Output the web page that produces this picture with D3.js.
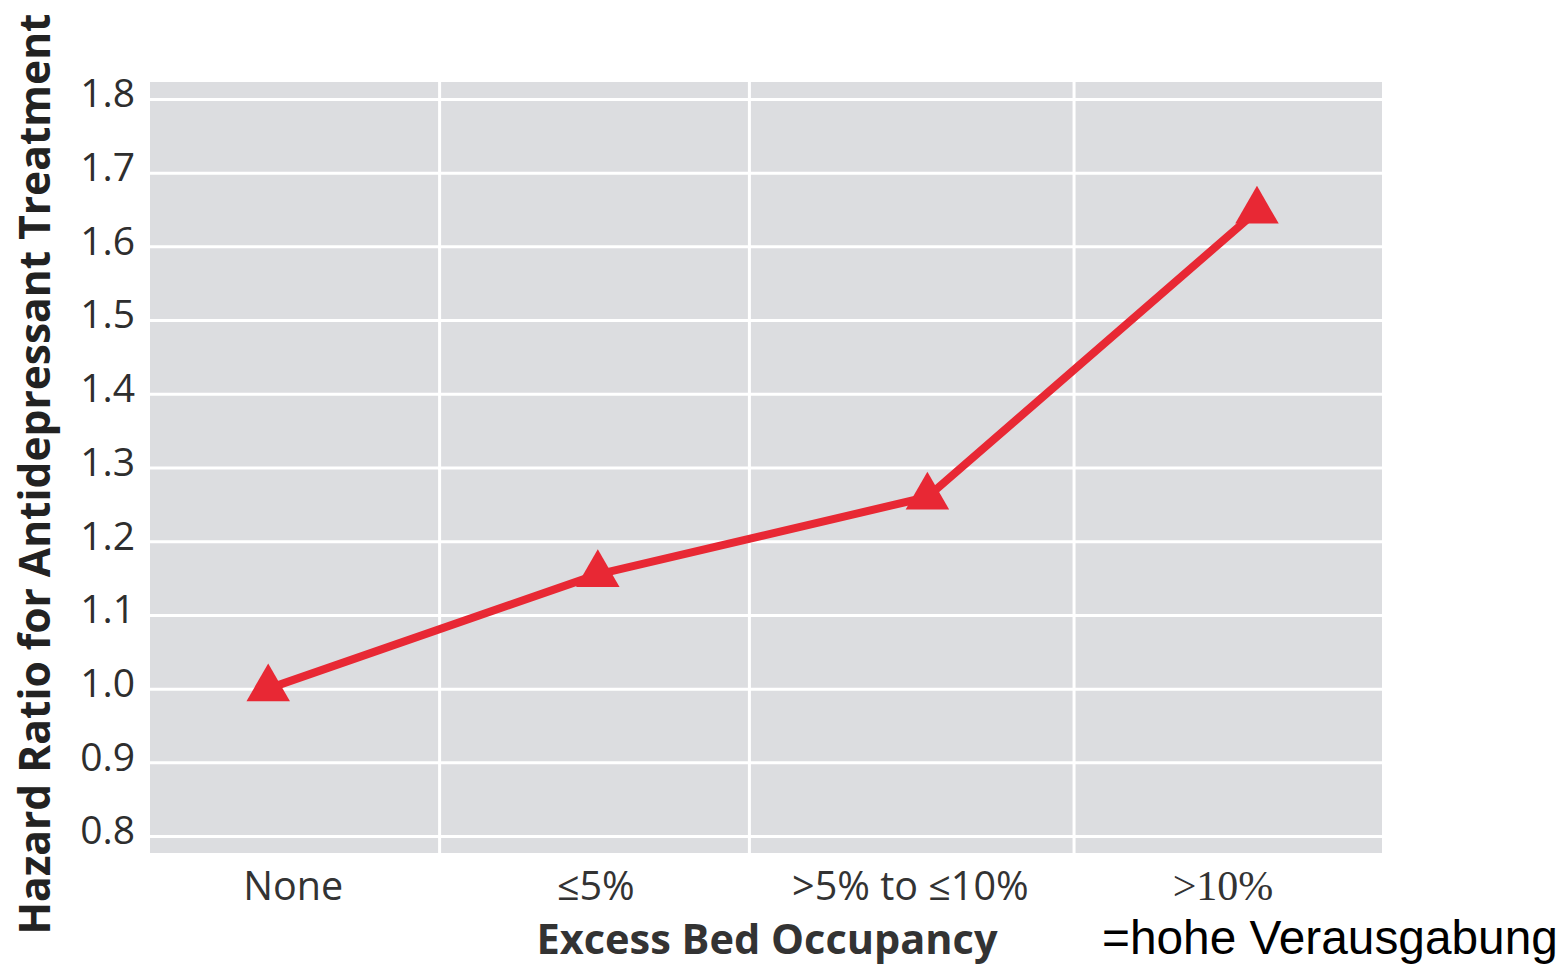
<!DOCTYPE html>
<html>
<head>
<meta charset="utf-8">
<script src="https://cdn.jsdelivr.net/npm/d3@7"></script>
<style>
  html, body { margin: 0; padding: 0; background: #fff; }
  svg { display: block; }
</style>
</head>
<body>
<svg id="chart" width="1567" height="968"></svg>
<script>
// Excess bed occupancy categories and hazard ratios
const categories = ["None", "\u22645%", ">5% to \u226410%", ">10%"];
const hazardRatios = [1.0, 1.155, 1.26, 1.648];
const yTickValues = [0.8, 0.9, 1.0, 1.1, 1.2, 1.3, 1.4, 1.5, 1.6, 1.7, 1.8];
// boundaries between category bands, in category-index units
const bandBoundaries = [0.52, 1.46, 2.445];

const svg = d3.select("#chart");
const plot = { left: 150, right: 1382, top: 82, bottom: 853 };

const y = d3.scaleLinear()
  .domain([0.777, 1.823])
  .range([plot.bottom, plot.top]);

const x = d3.scalePoint()
  .domain(categories)
  .range([plot.left, plot.right])
  .padding(0.369)
  .align(0.486);

const xIndex = d3.scaleLinear()
  .domain([0, categories.length - 1])
  .range([x(categories[0]), x(categories[categories.length - 1])]);

// plot background
svg.append("rect")
  .attr("x", plot.left).attr("y", plot.top)
  .attr("width", plot.right - plot.left)
  .attr("height", plot.bottom - plot.top)
  .attr("fill", "#dcdde0");

// horizontal grid lines + tick labels
const yAxis = d3.axisLeft(y)
  .tickValues(yTickValues)
  .tickFormat(d3.format(".1f"))
  .tickSize(-(plot.right - plot.left))
  .tickPadding(15);

const gy = svg.append("g")
  .attr("transform", `translate(${plot.left},0)`)
  .call(yAxis);
gy.select(".domain").remove();
gy.selectAll(".tick line")
  .attr("stroke", "#ffffff")
  .attr("stroke-width", 3);
gy.selectAll(".tick text")
  .attr("font-family", "'Open Sans', sans-serif")
  .attr("font-size", 39)
  .attr("fill", "#2e2e2e")
  .attr("dy", "0.2em");

// vertical band separators
svg.append("g")
  .selectAll("line")
  .data(bandBoundaries)
  .join("line")
  .attr("x1", d => xIndex(d)).attr("x2", d => xIndex(d))
  .attr("y1", plot.top).attr("y2", plot.bottom)
  .attr("stroke", "#ffffff")
  .attr("stroke-width", 3);

// category labels
const labelStyles = [
  { family: "'Open Sans', sans-serif", size: 39.5, dx: 25 },
  { family: "'Open Sans', sans-serif", size: 39.5, dx: -2 },
  { family: "'Open Sans', sans-serif", size: 39.5, dx: -17 },
  { family: "'Liberation Serif', 'Times New Roman', serif", size: 42, dx: -34 }
];
svg.append("g")
  .selectAll("text")
  .data(categories)
  .join("text")
  .attr("x", (d, i) => x(d) + labelStyles[i].dx)
  .attr("y", 900)
  .attr("text-anchor", "middle")
  .attr("font-family", (d, i) => labelStyles[i].family)
  .attr("font-size", (d, i) => labelStyles[i].size)
  .attr("fill", "#333")
  .text(d => d);

// data line
const line = d3.line()
  .x((d, i) => x(categories[i]))
  .y(d => y(d));

svg.append("path")
  .datum(hazardRatios)
  .attr("d", line)
  .attr("fill", "none")
  .attr("stroke", "#e82834")
  .attr("stroke-width", 8)
  .attr("stroke-linejoin", "round");

// triangle markers
const tri = d3.symbol().type(d3.symbolTriangle).size(820);
svg.append("g")
  .selectAll("path")
  .data(hazardRatios)
  .join("path")
  .attr("transform", (d, i) => `translate(${x(categories[i])},${y(d)})`)
  .attr("d", tri)
  .attr("fill", "#e82834");

// axis titles
svg.append("text")
  .attr("transform", "translate(50,474) rotate(-90)")
  .attr("text-anchor", "middle")
  .attr("font-family", "'Open Sans', sans-serif")
  .attr("font-weight", 700)
  .attr("font-size", 42.5)
  .attr("fill", "#222")
  .text("Hazard Ratio for Antidepressant Treatment");

svg.append("text")
  .attr("x", 767)
  .attr("y", 954)
  .attr("text-anchor", "middle")
  .attr("font-family", "'Open Sans', sans-serif")
  .attr("font-weight", 700)
  .attr("font-size", 41.5)
  .attr("fill", "#333")
  .text("Excess Bed Occupancy");

svg.append("text")
  .attr("x", 1102)
  .attr("y", 954)
  .attr("font-family", "'Liberation Sans', Arial, sans-serif")
  .attr("font-size", 47.8)
  .attr("fill", "#000")
  .text("=hohe Verausgabung");
</script>
</body>
</html>
